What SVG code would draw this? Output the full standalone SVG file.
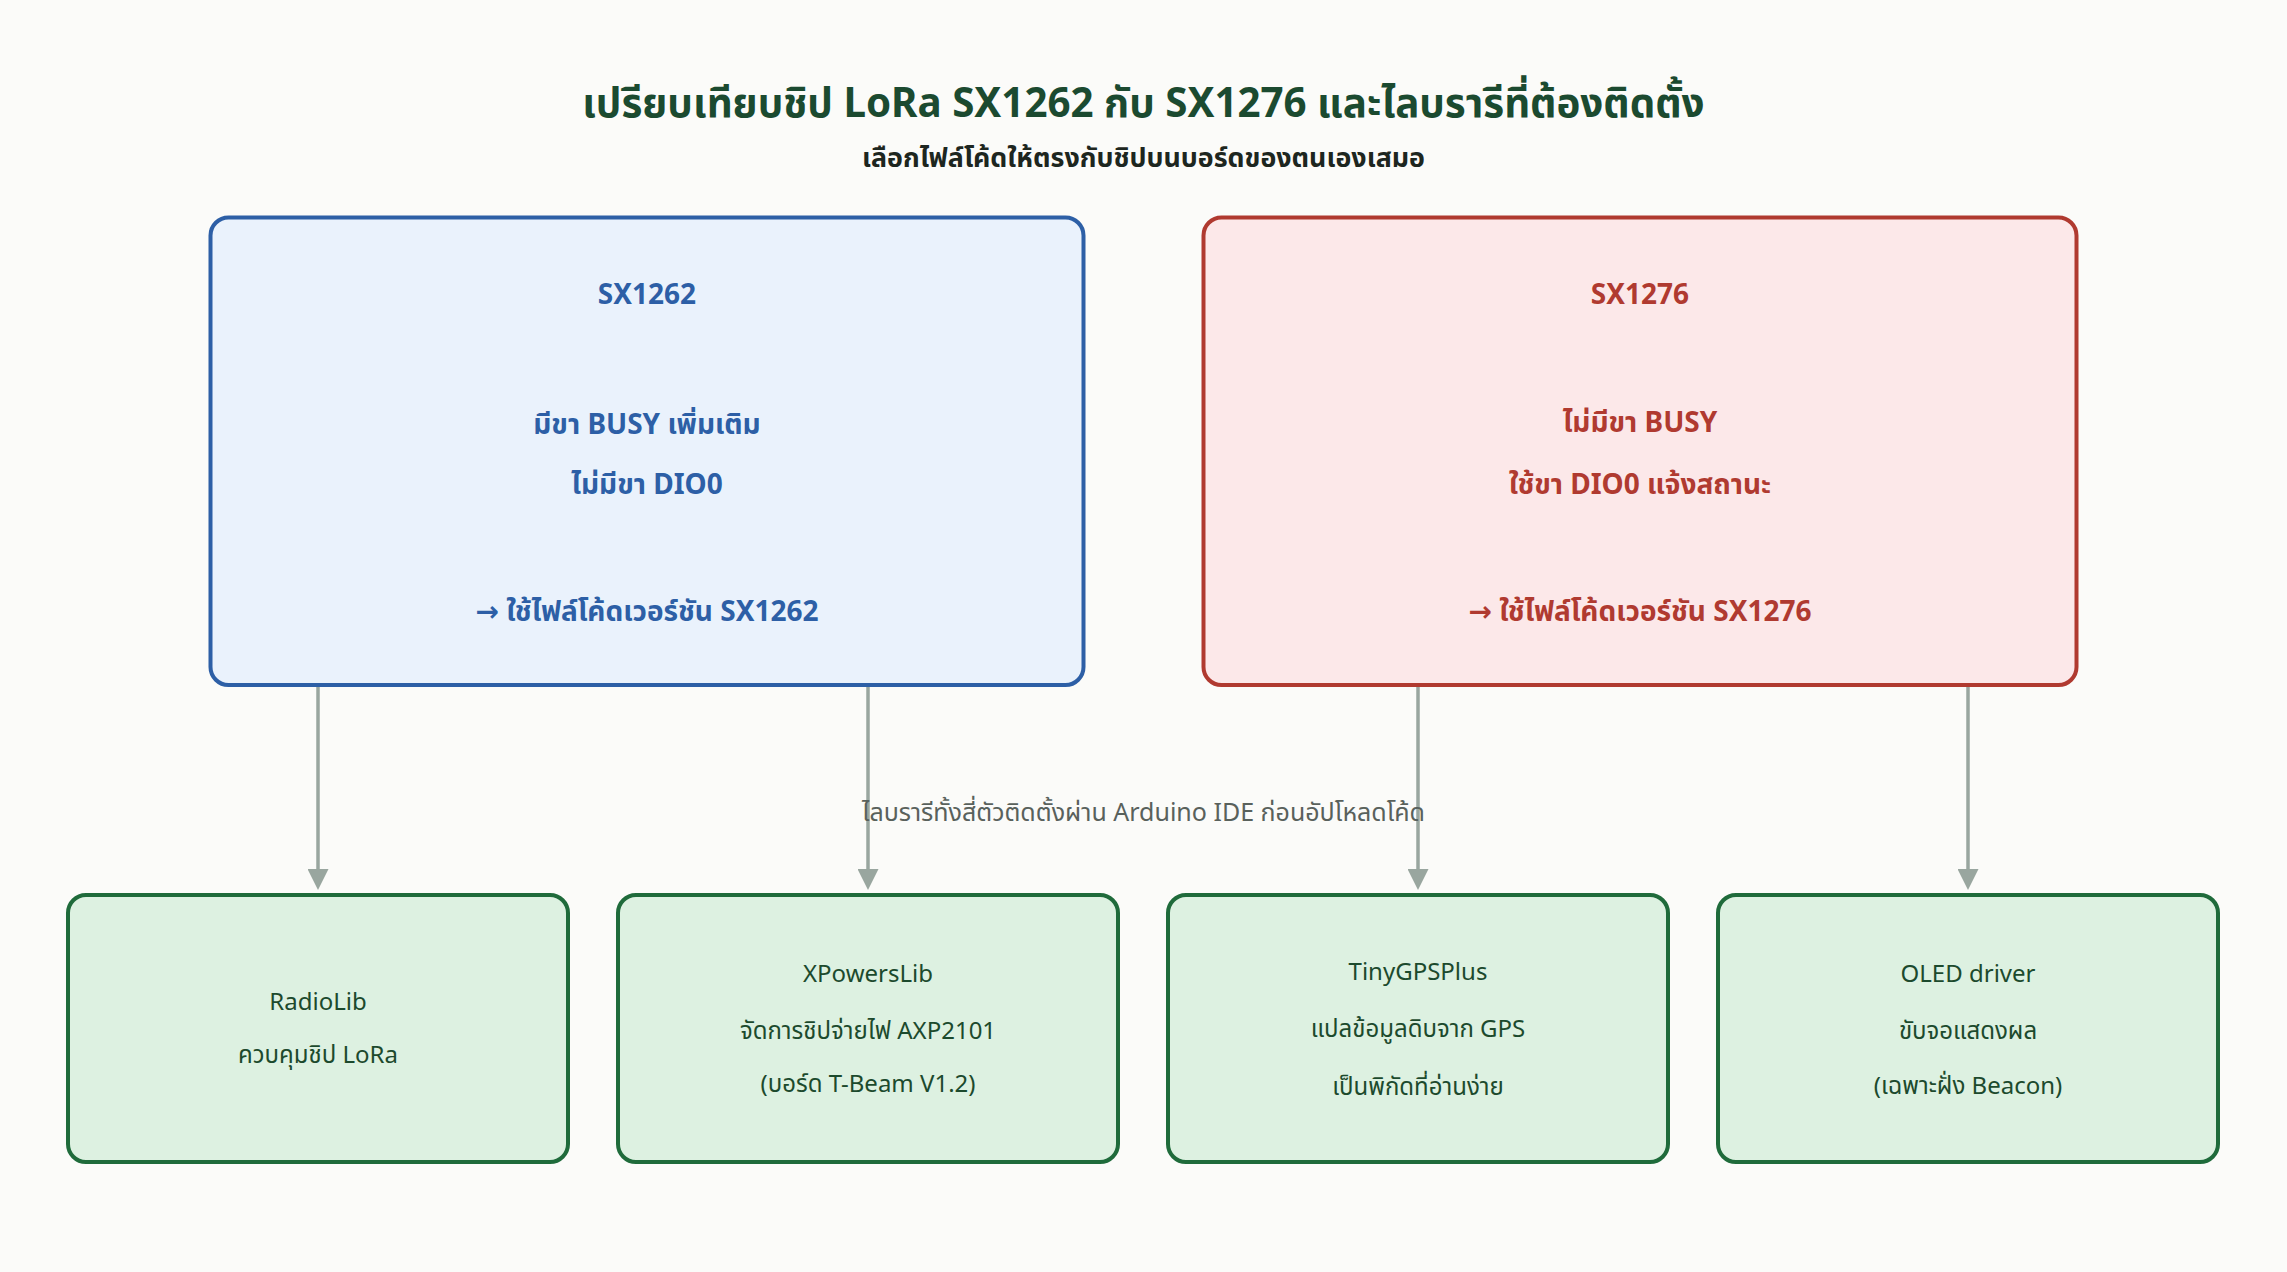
<svg xmlns="http://www.w3.org/2000/svg" width="2287" height="1272" viewBox="0 0 2287 1272">
  <defs>
    <style>
      text { font-family: "Noto Sans", "Noto Sans Thai", "DejaVu Sans", sans-serif; text-anchor: middle; }
      .title { font-size: 40.3px; font-weight: 700; fill: #1b4a30; }
      .subtitle { font-size: 26.8px; font-weight: 700; fill: #1d2620; }
      .blue-box { fill: #eaf2fc; stroke: #2d5fa6; stroke-width: 4; }
      .red-box { fill: #fce8e9; stroke: #b03a30; stroke-width: 4; }
      .green-box { fill: #ddf1e1; stroke: #1f6b3b; stroke-width: 4; }
      .blue-text { font-size: 28px; font-weight: 700; fill: #2d5fa6; }
      .red-text { font-size: 28px; font-weight: 700; fill: #b03a30; }
      .green-text { font-size: 24px; font-weight: 400; fill: #1c4a2d; }
      .connector { stroke: #99a69f; stroke-width: 3.5; fill: none; }
      .note { font-size: 25px; fill: #59615c; }
    </style>
    <marker id="arrow" viewBox="0 0 10 10" refX="0" refY="5" markerWidth="21" markerHeight="21" markerUnits="userSpaceOnUse" orient="auto">
      <path d="M0,0 L10,5 L0,10 z" fill="#99a69f"/>
    </marker>
  </defs>

  <rect x="0" y="0" width="2287" height="1272" fill="#fbfbf9"/>

  <g id="header">
    <text class="title" x="1143.5" y="117">เปรียบเทียบชิป LoRa SX1262 กับ SX1276 และไลบรารีที่ต้องติดตั้ง</text>
    <text class="subtitle" x="1143.5" y="167">เลือกไฟล์โค้ดให้ตรงกับชิปบนบอร์ดของตนเองเสมอ</text>
  </g>

  <g id="connectors">
    <line class="connector" x1="318" y1="686" x2="318" y2="869" marker-end="url(#arrow)"/>
    <line class="connector" x1="868" y1="686" x2="868" y2="869" marker-end="url(#arrow)"/>
    <line class="connector" x1="1418" y1="686" x2="1418" y2="869" marker-end="url(#arrow)"/>
    <line class="connector" x1="1968" y1="686" x2="1968" y2="869" marker-end="url(#arrow)"/>
    <text class="note" x="1143.5" y="821">ไลบรารีทั้งสี่ตัวติดตั้งผ่าน Arduino IDE ก่อนอัปโหลดโค้ด</text>
  </g>

  <g id="sx1262">
    <rect class="blue-box" x="210.5" y="217.5" width="873" height="467.5" rx="18"/>
    <text class="blue-text" x="647" y="304">SX1262</text>
    <text class="blue-text" x="647" y="434">มีขา BUSY เพิ่มเติม</text>
    <text class="blue-text" x="647" y="494">ไม่มีขา DIO0</text>
    <text class="blue-text" x="647" y="621">→ ใช้ไฟล์โค้ดเวอร์ชัน SX1262</text>
  </g>

  <g id="sx1276">
    <rect class="red-box" x="1203.5" y="217.5" width="873" height="467.5" rx="18"/>
    <text class="red-text" x="1640" y="304">SX1276</text>
    <text class="red-text" x="1640" y="432">ไม่มีขา BUSY</text>
    <text class="red-text" x="1640" y="494">ใช้ขา DIO0 แจ้งสถานะ</text>
    <text class="red-text" x="1640" y="621">→ ใช้ไฟล์โค้ดเวอร์ชัน SX1276</text>
  </g>

  <g id="radiolib">
    <rect class="green-box" x="68" y="895" width="500" height="267" rx="18"/>
    <text class="green-text" x="318" y="1010">RadioLib</text>
    <text class="green-text" x="318" y="1063">ควบคุมชิป LoRa</text>
  </g>

  <g id="xpowerslib">
    <rect class="green-box" x="618" y="895" width="500" height="267" rx="18"/>
    <text class="green-text" x="868" y="982">XPowersLib</text>
    <text class="green-text" x="868" y="1039">จัดการชิปจ่ายไฟ AXP2101</text>
    <text class="green-text" x="868" y="1092">(บอร์ด T-Beam V1.2)</text>
  </g>

  <g id="tinygpsplus">
    <rect class="green-box" x="1168" y="895" width="500" height="267" rx="18"/>
    <text class="green-text" x="1418" y="980">TinyGPSPlus</text>
    <text class="green-text" x="1418" y="1037">แปลข้อมูลดิบจาก GPS</text>
    <text class="green-text" x="1418" y="1095">เป็นพิกัดที่อ่านง่าย</text>
  </g>

  <g id="oled">
    <rect class="green-box" x="1718" y="895" width="500" height="267" rx="18"/>
    <text class="green-text" x="1968" y="982">OLED driver</text>
    <text class="green-text" x="1968" y="1039">ขับจอแสดงผล</text>
    <text class="green-text" x="1968" y="1094">(เฉพาะฝั่ง Beacon)</text>
  </g>
</svg>
